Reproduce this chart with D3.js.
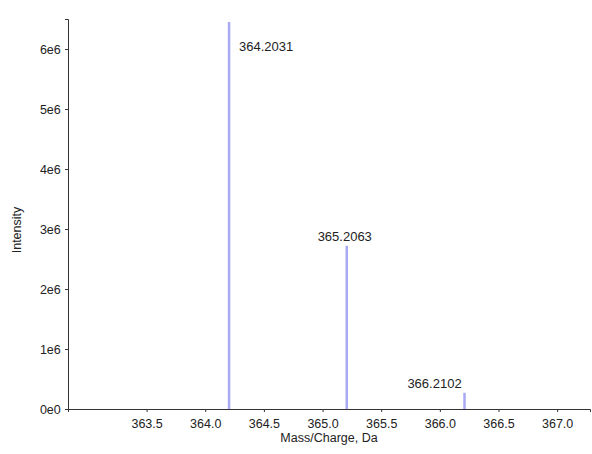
<!DOCTYPE html>
<html>
<head>
<meta charset="utf-8">
<script src="https://cdn.jsdelivr.net/npm/d3@7"></script>
<style>
  body { margin: 0; background: #fff; }
  svg text { font-family: "Liberation Sans", Arial, sans-serif; fill: #222; }
  .axis path, .axis line { stroke: #333; }
</style>
</head>
<body>
<svg id="chart" width="592" height="454"></svg>
<script>
// peak data
const peakMz = [364.2031, 365.2063, 366.2102]
const peakIntensity = [6.45e6, 2.72e6, 0.27e6]
const peakLabels = ['364.2031', '365.2063', '366.2102']

const xTicks = [363.5, 364.0, 364.5, 365.0, 365.5, 366.0, 366.5, 367.0]
const yTicks = [0, 1e6, 2e6, 3e6, 4e6, 5e6, 6e6]
const yTickLabels = ['0e0', '1e6', '2e6', '3e6', '4e6', '5e6', '6e6']

const margins = { top: 19, left: 68, right: 2, bottom: 45 }
const width = 592, height = 454

const svg = d3.select('#chart')

const x = d3.scaleLinear()
  .domain([362.83, 367.28])
  .range([margins.left, width - margins.right])
const y = d3.scaleLinear()
  .domain([0, 6.5e6])
  .range([409, margins.top])

// peaks
svg.append('g').selectAll('line')
  .data(peakMz)
  .enter().append('line')
  .attr('x1', d => x(d))
  .attr('x2', d => x(d))
  .attr('y1', y(0))
  .attr('y2', (d, i) => y(peakIntensity[i]))
  .attr('stroke', '#aaaaf4')
  .attr('stroke-width', 2.5)

// axes
svg.append('g')
  .attr('class', 'x axis')
  .attr('transform', 'translate(0,' + y(0) + ')')
  .call(d3.axisBottom(x).tickValues(xTicks).tickFormat(d3.format('.1f')).tickSizeOuter(0).tickSize(3))
  .call(g => g.selectAll('text').attr('font-size', 12.5).attr('dy', '1.0em'))

svg.append('g')
  .attr('class', 'y axis')
  .attr('transform', 'translate(' + margins.left + ',0)')
  .call(d3.axisLeft(y).tickValues(yTicks).tickFormat((d, i) => yTickLabels[i]).tickSizeOuter(0).tickSize(3))
  .call(g => g.selectAll('text').attr('font-size', 12.5).attr('dx', '-0.1em'))

// peak labels
const labelPos = [
  { dx: 10, dy: 29, anchor: 'start' },
  { dx: -2, dy: -5, anchor: 'middle' },
  { dx: -30, dy: -5, anchor: 'middle' }
]
svg.append('g').selectAll('text')
  .data(peakLabels)
  .enter().append('text')
  .attr('x', (d, i) => x(peakMz[i]) + labelPos[i].dx)
  .attr('y', (d, i) => y(peakIntensity[i]) + labelPos[i].dy)
  .attr('text-anchor', (d, i) => labelPos[i].anchor)
  .attr('font-size', 13)
  .text(d => d)

// axis titles
svg.append('text')
  .attr('x', (margins.left + width - margins.right) / 2)
  .attr('y', 442)
  .attr('text-anchor', 'middle')
  .attr('font-size', 12.5)
  .text('Mass/Charge, Da')

svg.append('text')
  .attr('transform', 'translate(21,' + 230 + ') rotate(-90)')
  .attr('text-anchor', 'middle')
  .attr('font-size', 12.5)
  .text('Intensity')
</script>
</body>
</html>
